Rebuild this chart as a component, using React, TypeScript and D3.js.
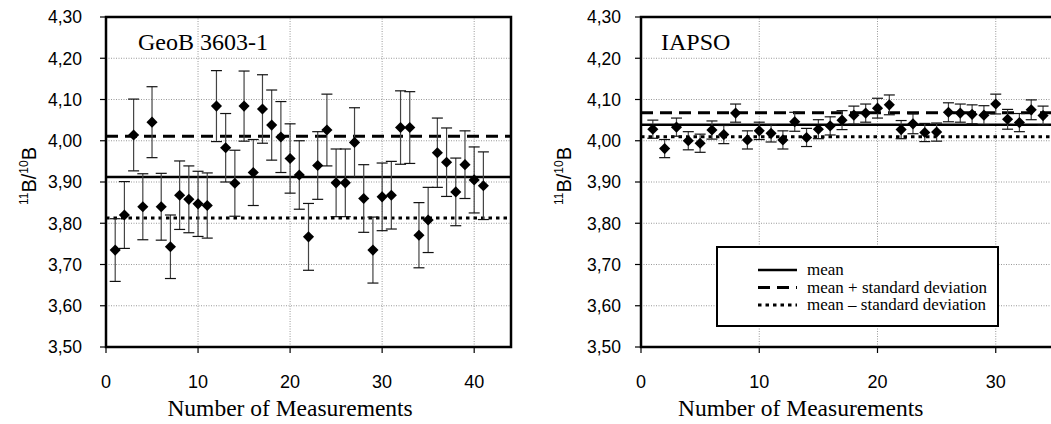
import React from 'react'
import * as d3 from 'd3'

const width = 1051
const height = 424

const yTicks = [3.5, 3.6, 3.7, 3.8, 3.9, 4.0, 4.1, 4.2, 4.3]
const xTicks = [0, 10, 20, 30, 40]

// GeoB 3603-1, measurements 1..41
const geobValues = [
  3.735, 3.82, 4.014, 3.84, 4.045, 3.84, 3.743, 3.868, 3.858, 3.847, 3.843,
  4.084, 3.983, 3.897, 4.084, 3.923, 4.077, 4.038, 4.009, 3.957, 3.917, 3.767,
  3.94, 4.026, 3.898, 3.898, 3.996, 3.86, 3.735, 3.864, 3.868, 4.032, 4.032,
  3.771, 3.808, 3.971, 3.948, 3.876, 3.942, 3.905, 3.891,
]
const geobErrors = [
  0.076, 0.081, 0.087, 0.08, 0.086, 0.081, 0.077, 0.083, 0.081, 0.079, 0.079,
  0.086, 0.083, 0.08, 0.085, 0.08, 0.083, 0.085, 0.086, 0.084, 0.083, 0.081,
  0.082, 0.087, 0.082, 0.082, 0.084, 0.082, 0.08, 0.082, 0.082, 0.089, 0.087,
  0.079, 0.079, 0.084, 0.083, 0.082, 0.082, 0.08, 0.082,
]
const geobLines = [3.912, 4.011, 3.813] // mean, +sd, -sd

// IAPSO, measurements 1..34 (visible)
const iapsoValues = [
  4.028, 3.981, 4.033, 4.0, 3.994, 4.026, 4.015, 4.067, 4.002, 4.024, 4.018,
  4.002, 4.046, 4.008, 4.028, 4.036, 4.05, 4.062, 4.067, 4.079, 4.087, 4.027,
  4.041, 4.02, 4.021, 4.069, 4.067, 4.064, 4.062, 4.089, 4.052, 4.044, 4.075,
  4.061,
]
const iapsoErrors = [
  0.022, 0.022, 0.022, 0.022, 0.022, 0.022, 0.022, 0.022, 0.022, 0.021, 0.021,
  0.022, 0.023, 0.022, 0.023, 0.022, 0.023, 0.022, 0.022, 0.024, 0.024, 0.022,
  0.024, 0.022, 0.022, 0.023, 0.022, 0.023, 0.023, 0.024, 0.024, 0.022, 0.024,
  0.023,
]
const iapsoLines = [4.039, 4.068, 4.01]

const legendLabels = ['mean', 'mean + standard deviation', 'mean \u2013 standard deviation']
const lineStyles = [
  {dash: null, w: 2.5},
  {dash: '12,7', w: 3},
  {dash: '3.5,4', w: 3},
]

const sans = '"Liberation Sans", Arial, sans-serif'
const serif = '"Liberation Serif", "Times New Roman", serif'
const fmt = (v: number) => d3.format('.2f')(v).replace('.', ',')
const diamond = d3.symbol(d3.symbolSquare, 62)()

const y = d3.scaleLinear().domain([3.5, 4.3]).range([347, 17])

type PanelProps = {
  left: number
  right: number
  xMax: number
  values: number[]
  errors: number[]
  lines: number[]
  title: string
  titleX: number
  labelGap: number
  yTitleX: number
  xTitleAt: number
  cap: number
  legend?: boolean
}

const Panel = ({left, right, xMax, values, errors, lines, title, titleX, labelGap, yTitleX, xTitleAt, cap, legend}: PanelProps) => {
  const x = d3.scaleLinear().domain([0, xMax]).range([left, right])
  const [y0, y1] = y.range()
  const visibleTicks = xTicks.filter(t => t <= xMax && x(t) < width - 10)
  return (
    <g>
      {/* grid */}
      {yTicks.slice(1, -1).map(t => (
        <line key={'gy' + t} x1={left} x2={right} y1={y(t)} y2={y(t)} stroke="#999" strokeWidth={1} strokeDasharray="1,1.5" />
      ))}
      {xTicks.slice(1).filter(t => t < xMax).map(t => (
        <line key={'gx' + t} x1={x(t)} x2={x(t)} y1={y0} y2={y1} stroke="#999" strokeWidth={1} strokeDasharray="1,1.5" />
      ))}
      {/* stat lines */}
      {lines.map((v, i) => (
        <line key={'l' + i} x1={left} x2={right} y1={y(v)} y2={y(v)} stroke="#000"
          strokeWidth={lineStyles[i].w} strokeDasharray={lineStyles[i].dash ?? undefined} />
      ))}
      {/* error bars */}
      {values.map((v, i) => {
        const cx = x(i + 1)
        return (
          <g key={'e' + i}>
            <line x1={cx} x2={cx} y1={y(v - errors[i])} y2={y(v + errors[i])} stroke="#444" strokeWidth={1.2} />
            <line x1={cx - cap} x2={cx + cap} y1={y(v + errors[i])} y2={y(v + errors[i])} stroke="#111" strokeWidth={1.2} />
            <line x1={cx - cap} x2={cx + cap} y1={y(v - errors[i])} y2={y(v - errors[i])} stroke="#111" strokeWidth={1.2} />
          </g>
        )
      })}
      {values.map((v, i) => (
        <path key={'p' + i} d={diamond ?? ''} transform={`translate(${x(i + 1)},${y(v)}) rotate(45)`} fill="#000" />
      ))}
      {/* frame */}
      <rect x={left} y={y1} width={right - left} height={y0 - y1} fill="none" stroke="#000" strokeWidth={2.5} />
      {/* y axis */}
      {yTicks.map(t => (
        <g key={'yt' + t}>
          <line x1={left - 6} x2={left} y1={y(t)} y2={y(t)} stroke="#000" strokeWidth={1.2} />
          <text x={left - labelGap} y={y(t)} dy="0.36em" textAnchor="end" fontFamily={sans} fontSize={17.5}>{fmt(t)}</text>
        </g>
      ))}
      {/* x axis */}
      {visibleTicks.map(t => (
        <g key={'xt' + t}>
          <line x1={x(t)} x2={x(t)} y1={y0} y2={y0 + 6} stroke="#000" strokeWidth={1.2} />
          <text x={x(t)} y={388} textAnchor="middle" fontFamily={sans} fontSize={18}>{t}</text>
        </g>
      ))}
      <text x={x(xTitleAt)} y={416} textAnchor="middle" fontFamily={serif} fontSize={23.5}>Number of Measurements</text>
      <text transform={`translate(${yTitleX},176) rotate(-90)`} textAnchor="middle" fontFamily={sans} fontSize={20}>
        <tspan fontSize={12} dy="-8">11</tspan>
        <tspan dy="8">B/</tspan>
        <tspan fontSize={12} dy="-8">10</tspan>
        <tspan dy="8">B</tspan>
      </text>
      <text x={titleX} y={50} fontFamily={serif} fontSize={24}>{title}</text>
      {legend && (
        <g>
          <rect x={717} y={247} width={281} height={79} fill="#fff" stroke="#000" strokeWidth={2} />
          {legendLabels.map((lab, i) => (
            <g key={lab}>
              <line x1={758} x2={797} y1={270 + i * 17.5} y2={270 + i * 17.5} stroke="#000"
                strokeWidth={lineStyles[i].w} strokeDasharray={lineStyles[i].dash ?? undefined} />
              <text x={807} y={270 + i * 17.5} dy="0.32em" fontFamily={serif} fontSize={17}>{lab}</text>
            </g>
          ))}
        </g>
      )}
    </g>
  )
}

export default function App() {
  return (
    <svg width={width} height={height} style={{position: 'absolute', left: 0, top: 0, background: '#fff'}}>
      <Panel left={106} right={511} xMax={44} values={geobValues} errors={geobErrors} lines={geobLines}
        title="GeoB 3603-1" titleX={138} labelGap={24} yTitleX={36} xTitleAt={20} cap={5.5} />
      <Panel left={641} right={1114} xMax={40} values={iapsoValues} errors={iapsoErrors} lines={iapsoLines}
        title="IAPSO" titleX={661} labelGap={20} yTitleX={571} xTitleAt={13.5} cap={5.5} legend />
    </svg>
  )
}
